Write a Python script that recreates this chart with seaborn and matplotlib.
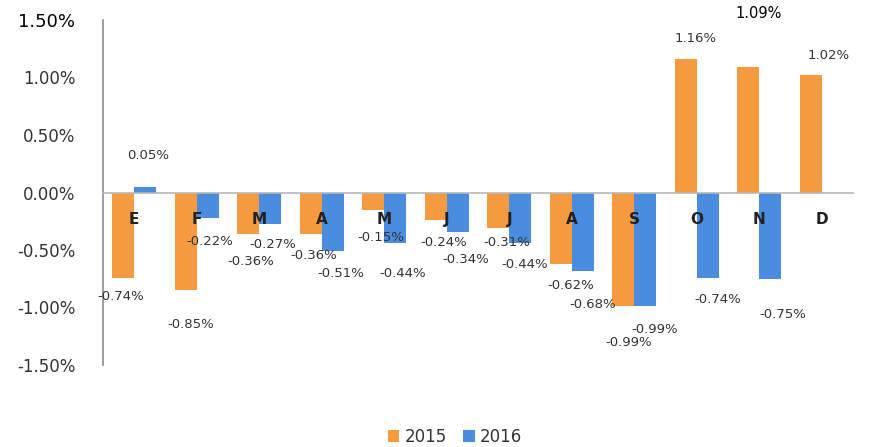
import matplotlib
matplotlib.use("Agg")
import matplotlib.pyplot as plt
import seaborn as sns
import pandas as pd
import numpy as np

months = ["E", "F", "M", "A", "M", "J", "J", "A", "S", "O", "N", "D"]
years = ["2015", "2016"]
values_2015 = [-0.74, -0.85, -0.36, -0.36, -0.15, -0.24, -0.31, -0.62, -0.99, 1.16, 1.09, 1.02]
values_2016 = [0.05, -0.22, -0.27, -0.51, -0.44, -0.34, -0.44, -0.68, -0.99, -0.74, -0.75, np.nan]
y_ticks = [1.5, 1.0, 0.5, 0.0, -0.5, -1.0, -1.5]

# label offsets (pixels) relative to bar end: (dx, dy) with dy positive = downward
off_2015 = [(-3, 19), (5, 34), (2, 28), (3, 22), (7, 28), (8, 22), (9, 14), (10, 22),
            (5, 36), (10, -21), (10, -54), (18, -20)]
off_2016 = [(3, -31), (2, 24), (3, 21), (8, 22), (7, 30), (8, 28), (4, 21), (10, 34),
            (10, 23), (10, 22), (13, 36), (0, 0)]

slot = [f"{i}" for i in range(len(months))]
df = pd.DataFrame({
    "slot": slot * 2,
    "year": [years[0]] * len(months) + [years[1]] * len(months),
    "value": values_2015 + values_2016,
})

sns.set_style("white")
plt.rcParams["font.family"] = ["DejaVu Sans"]

fig = plt.figure(figsize=(8.69, 4.47), dpi=100)
ax = fig.add_axes([103 / 869, 1 - 365 / 447, 750 / 869, 345 / 447])

palette = {"2015": "#F59A3E", "2016": "#4A8DE0"}
sns.barplot(data=df, x="slot", y="value", hue="year", palette=palette, ax=ax,
            width=0.7, gap=0.0, saturation=1, legend=True, errorbar=None,
            linewidth=0, edgecolor="none")

ax.set_axisbelow(False)
ax.set_xlim(-0.5, 11.5)
ax.set_ylim(-1.5, 1.5)
ax.set_xlabel("")
ax.set_ylabel("")

for s in ["top", "right"]:
    ax.spines[s].set_visible(False)
ax.spines["left"].set_color("#8c8c8c")
ax.spines["left"].set_linewidth(1.2)
ax.spines["bottom"].set_position(("data", 0))
ax.spines["bottom"].set_color("#b8b8b8")
ax.spines["bottom"].set_linewidth(1.2)

ax.set_xticks(range(len(months)))
ax.set_xticklabels(months, fontsize=11, color="#222222", fontweight="bold")
ax.tick_params(axis="x", length=0, pad=14)

ax.set_yticks(y_ticks)
ax.set_yticklabels([f"{t:.2f}%" for t in y_ticks], fontsize=12, color="#333333")
ax.tick_params(axis="y", length=0, pad=20)
for lab in ax.get_yticklabels():
    if lab.get_text() == "1.50%":
        lab.set_color("#000000")
        lab.set_fontsize(13)

# data labels
for cont, vals, offs in zip(ax.containers, [values_2015, values_2016], [off_2015, off_2016]):
    for bar, v, (dx, dy) in zip(cont, vals, offs):
        if np.isnan(v):
            continue
        x = bar.get_x() + bar.get_width() / 2
        big = (v == 1.09)
        ax.annotate(f"{v:.2f}%", (x, v), xytext=(dx, -dy), textcoords="offset pixels",
                    ha="center", va="center",
                    fontsize=10.5 if big else 9.5,
                    color="#000000" if big else "#333333",
                    annotation_clip=False, zorder=5)

leg = ax.legend(loc="center", bbox_to_anchor=((455 - 103) / 750, -(437 - 365) / 345),
                ncol=2, frameon=False, fontsize=12, handlelength=0.7, handleheight=0.7,
                handletextpad=0.3, columnspacing=1.0, borderpad=0.1)
for t in leg.get_texts():
    t.set_color("#333333")

fig.savefig("out.png", dpi=100)
